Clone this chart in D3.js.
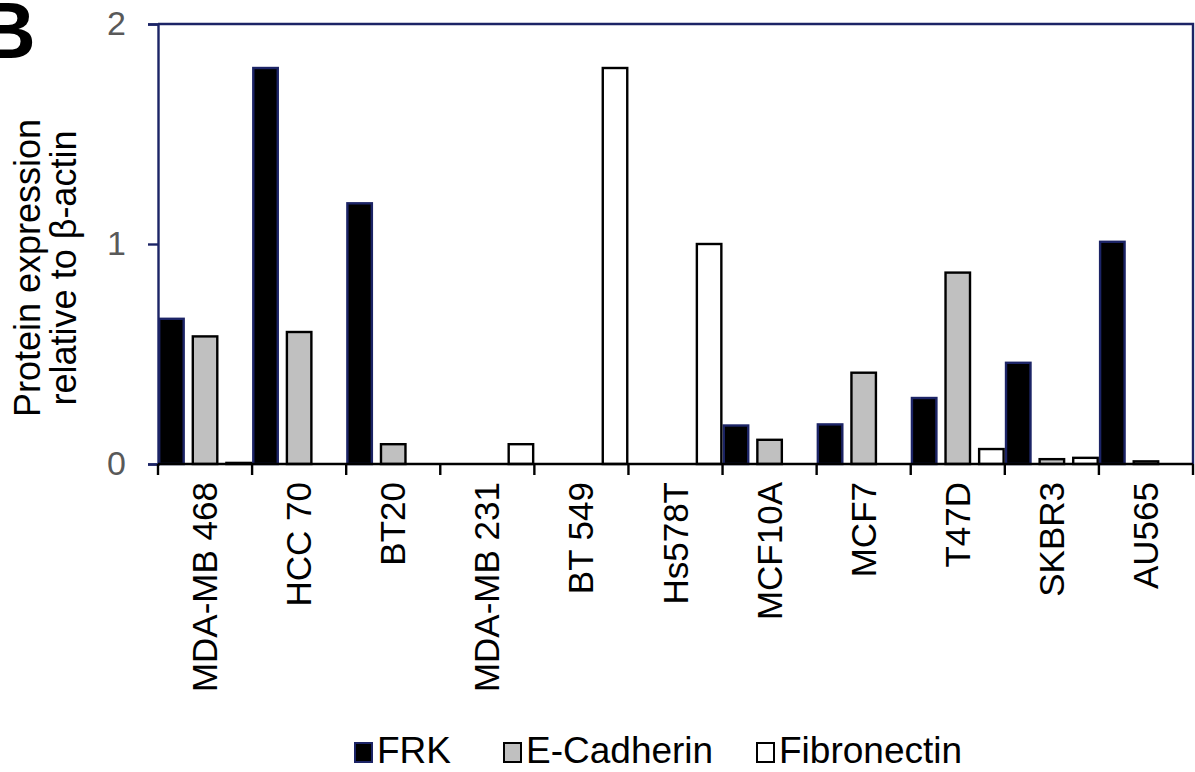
<!DOCTYPE html>
<html>
<head>
<meta charset="utf-8">
<script src="https://cdn.jsdelivr.net/npm/d3@7"></script>
<style>
  html, body { margin: 0; padding: 0; background: #fff; }
  svg { display: block; font-family: "Liberation Sans", Arial, sans-serif; }
</style>
</head>
<body>
<svg id="chart" width="1195" height="772"></svg>
<script>
// Cell lines and relative protein levels (normalised to β-actin)
const cellLines = ["MDA-MB 468", "HCC 70", "BT20", "MDA-MB 231", "BT 549", "Hs578T",
                   "MCF10A", "MCF7", "T47D", "SKBR3", "AU565"];
const frk         = [0.66, 1.80, 1.185, 0, 0, 0, 0.175, 0.18, 0.30, 0.46, 1.01];
const eCadherin   = [0.58, 0.60, 0.09, 0, 0, 0, 0.11, 0.415, 0.87, 0.022, 0.012];
const fibronectin = [0.005, 0, 0, 0.09, 1.80, 1.00, 0, 0, 0.068, 0.028, 0];
const seriesNames = ["FRK", "E-Cadherin", "Fibronectin"];
const yTicks = [0, 1, 2];

const series = [
  { name: seriesNames[0], values: frk,         fill: "#000000", stroke: "#1c2466" },
  { name: seriesNames[1], values: eCadherin,   fill: "#c0c0c0", stroke: "#000000" },
  { name: seriesNames[2], values: fibronectin, fill: "#ffffff", stroke: "#000000" }
];

const svg = d3.select("#chart");
const plot = { left: 158, right: 1193, top: 24, bottom: 464 };

const x = d3.scaleBand().domain(cellLines).range([plot.left, plot.right]).padding(0);
const y = d3.scaleLinear().domain([0, 2]).range([plot.bottom, plot.top]);

// Bars within each cell line: width w, gap 0.25w, three bars fill the band
const bw = x.bandwidth() / 3.5;
const xs = d3.scaleOrdinal().domain(seriesNames).range([0, 1.25 * bw, 2.5 * bw]);

const groups = svg.append("g").selectAll("g")
  .data(series).join("g");

groups.selectAll("rect")
  .data(s => s.values.map((v, i) => ({ v, cat: cellLines[i], s })))
  .join("rect")
  .filter(d => d.v > 0)
  .attr("x", d => x(d.cat) + xs(d.s.name) + 1.2)
  .attr("width", bw - 2.4)
  .attr("y", d => y(d.v))
  .attr("height", d => y(0) - y(d.v))
  .attr("fill", d => d.s.fill)
  .attr("stroke", d => d.s.stroke)
  .attr("stroke-width", 2.4);

// Frame: top and right border
svg.append("path")
  .attr("d", `M${plot.left},${plot.top}H${plot.right}V${plot.bottom}`)
  .attr("fill", "none").attr("stroke", "#1c2466").attr("stroke-width", 2.4);

// Y axis
const yAxis = d3.axisLeft(y).tickValues(yTicks).tickSize(10).tickPadding(22)
  .tickFormat(d3.format("d"));
const gy = svg.append("g").attr("transform", `translate(${plot.left},0)`).call(yAxis);
gy.select(".domain").attr("stroke", "#1c2466").attr("stroke-width", 2.4);
gy.selectAll(".tick line").attr("stroke", "#1c2466").attr("stroke-width", 2.4);
gy.selectAll(".tick text").attr("fill", "#595959").attr("font-size", 34)
  .attr("font-family", "Liberation Sans, Arial, sans-serif");

// X axis: ticks at category boundaries
const xAxisG = svg.append("g").attr("transform", `translate(0,${plot.bottom})`);
xAxisG.append("line").attr("x1", plot.left).attr("x2", plot.right)
  .attr("stroke", "#000").attr("stroke-width", 2.4);
const boundaries = cellLines.map(c => x(c)).concat([plot.right]);
xAxisG.selectAll("line.tick").data(boundaries).join("line")
  .attr("class", "tick")
  .attr("x1", d => d).attr("x2", d => d)
  .attr("y1", 0).attr("y2", 11)
  .attr("stroke", "#000").attr("stroke-width", 2.4);

xAxisG.selectAll("text").data(cellLines).join("text")
  .attr("transform", d => `translate(${x(d) + x.bandwidth() / 2 + 12},18) rotate(-90)`)
  .attr("text-anchor", "end")
  .attr("font-size", 35)
  .attr("fill", "#000")
  .text(d => d);

// Y-axis title
const title = svg.append("text")
  .attr("transform", "translate(0,268) rotate(-90)")
  .attr("text-anchor", "middle")
  .attr("font-size", 36)
  .attr("fill", "#000");
title.append("tspan").attr("x", 0).attr("y", 40).text("Protein expression");
title.append("tspan").attr("x", 0).attr("y", 76).text("relative to β-actin");

// Panel letter
svg.append("text").attr("x", -22).attr("y", 58)
  .attr("font-size", 80).attr("font-weight", "bold").attr("fill", "#000")
  .attr("font-family", "Liberation Sans, Arial, sans-serif")
  .text("B");

// Legend
const legendX = [355, 504, 757];
const legend = svg.append("g").selectAll("g").data(series).join("g")
  .attr("transform", (d, i) => `translate(${legendX[i]},743)`);
legend.append("rect").attr("width", 17).attr("height", 19)
  .attr("fill", d => d.fill).attr("stroke", d => d.stroke).attr("stroke-width", 2);
legend.append("text").attr("x", 22).attr("y", 20)
  .attr("font-size", 37).attr("fill", "#000")
  .text(d => d.name);
</script>
</body>
</html>
